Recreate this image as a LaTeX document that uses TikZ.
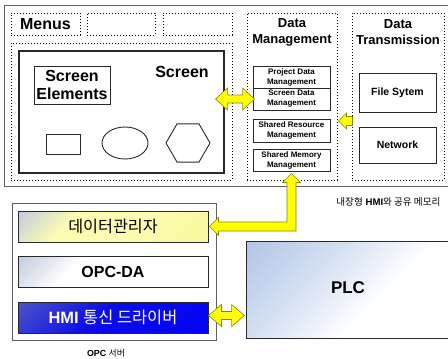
\documentclass[tikz,border=0pt]{standalone}
\usepackage{fontspec}
\setmainfont{Liberation Sans}
\newfontfamily\kr{Noto Sans CJK KR}
\usetikzlibrary{calc,shapes.geometric}

\definecolor{framegray}{RGB}{95,95,95}
\definecolor{boxline}{RGB}{40,40,40}
\definecolor{arrowfill}{RGB}{255,255,0}
\definecolor{arrowline}{RGB}{135,135,0}
\definecolor{mistblue}{RGB}{190,202,222}
\definecolor{paleyellow}{RGB}{252,252,178}
\definecolor{deepyellow}{RGB}{246,246,150}
\definecolor{hmitop}{RGB}{75,85,200}
\definecolor{hmimid}{RGB}{12,12,232}
\definecolor{hmibot}{RGB}{0,0,250}
\definecolor{plcblue}{RGB}{176,196,228}
\definecolor{plcmid}{RGB}{212,224,242}

% diagonal fades: the last colour lands in the top-left corner (shading angle=45)
\pgfdeclareverticalshading{dmkfade}{100bp}{color(0bp)=(deepyellow); color(45bp)=(paleyellow); color(66bp)=(paleyellow); color(86bp)=(mistblue); color(100bp)=(mistblue)}
\pgfdeclareverticalshading{opcfade}{100bp}{color(0bp)=(white); color(64bp)=(white); color(86bp)=(mistblue); color(100bp)=(mistblue)}
\pgfdeclareverticalshading{hmifade}{100bp}{color(0bp)=(hmibot); color(55bp)=(hmimid); color(86bp)=(hmitop); color(100bp)=(hmitop)}
\pgfdeclareverticalshading{plcfade}{100bp}{color(0bp)=(white); color(40bp)=(white); color(62bp)=(plcmid); color(86bp)=(plcblue); color(100bp)=(plcblue)}

\tikzset{
  box/.style={draw=boxline, line width=0.9pt, inner sep=0pt, rectangle},
  dotbox/.style={draw=black, line width=1pt, dash pattern=on 1pt off 2pt, inner sep=0pt, rectangle},
  framebox/.style={draw=framegray, line width=0.9pt, inner sep=0pt, rectangle},
  fadebox/.style={box, shade, shading=#1, shading angle=45},
  bigtxt/.style={font=\bfseries\fontsize{16}{18}\selectfont, align=center},
  midtxt/.style={font=\bfseries\fontsize{13}{16}\selectfont, align=center},
  subtxt/.style={font=\bfseries\fontsize{8}{10}\selectfont, align=center},
  fstxt/.style={font=\bfseries\fontsize{10.5}{12}\selectfont, align=center},
  captxt/.style={font=\fontsize{9.6}{11}\selectfont},
  blockarrow/.style={fill=arrowfill, draw=arrowline, line width=0.6pt, line join=miter},
}

\begin{document}
\begin{tikzpicture}[x=1pt, y=-1pt]
\useasboundingbox (0,0) rectangle (448,359);
\fill[white] (0,0) rectangle (448,359);

% ---------- embedded HMI with shared memory ----------
\node[framebox, minimum width=445, minimum height=181] (hmi) at (226.5,95.5) {};

% menu bar
\node[dotbox, minimum width=69, minimum height=22] (menu1) at (45.5,24) {};
\node[bigtxt] (menulbl) at (menu1.center) {Menus};
\node[dotbox, minimum width=68, minimum height=22] (menu2) at (121,24) {};
\node[dotbox, minimum width=69, minimum height=22] (menu3) at (197.5,24) {};

% screen area
\node[dotbox, minimum width=221, minimum height=137] (scrdot) at (121.5,111.5) {};
\node[box, line width=1.1pt, minimum width=205, minimum height=122] (scrbox) at (121.5,112) {};
\node[bigtxt] (scrlbl) at (182,72) {Screen};
\node[box, minimum width=76, minimum height=38, bigtxt] (elem) at (72,85) {Screen\\Elements};
\node[box, minimum width=34, minimum height=20] (rectel) at (63,144) {};
\node[box, ellipse, minimum width=46, minimum height=32] (ellel) at (125,143) {};
\node[box, regular polygon, regular polygon sides=6, minimum size=44] (hexel) at (188,143) {};

% data management
\node[dotbox, minimum width=90, minimum height=167] (dmdot) at (292,96.5) {};
\node[midtxt] (dmlbl) at (292,32) {Data\\Management};
\node[box, minimum width=77, minimum height=22, subtxt] (pdm) at (291.5,77) {Project Data\\Management};
\node[box, minimum width=77, minimum height=22, subtxt] (sdm) at (291.5,99) {Screen Data\\Management};
\node[box, minimum width=77, minimum height=23, subtxt] (srm) at (291.5,130.5) {Shared Resource\\Management};
\node[box, minimum width=77, minimum height=22, subtxt] (smm) at (291.5,160) {Shared Memory\\Management};

% data transmission
\node[dotbox, minimum width=92, minimum height=167] (dtdot) at (398,96.5) {};
\node[midtxt] (dtlbl) at (398,32) {Data\\Transmission};
\node[box, minimum width=77, minimum height=39, fstxt] (fs) at (397.5,92.5) {File Sytem};
\node[box, minimum width=77, minimum height=36, fstxt] (net) at (397.5,145) {Network};

\node[captxt, anchor=east] (hmicap) at (444,202) {{\kr 내장형} \textbf{HMI}{\kr 와 공유 메모리}};

% ---------- OPC server ----------
\node[framebox, minimum width=204, minimum height=137] (opc) at (114,271.5) {};
\node[fadebox=dmkfade, minimum width=190, minimum height=31,
      font=\kr\fontsize{16.2}{17}\selectfont] (dmk) at (113,226.5) {데이터관리자};
\node[fadebox=opcfade, minimum width=190, minimum height=31, bigtxt] (opcda) at (113,271.5) {OPC-DA};
\node[fadebox=hmifade, minimum width=190, minimum height=31,
      text=white, font=\fontsize{16.4}{18}\selectfont] (hmidrv) at (113,317.5) {\textbf{HMI} {\kr 통신 드라이버}};
\node[font=\fontsize{8.8}{10}\selectfont] (opccap) at (106,353) {\textbf{OPC} {\kr 서버}};

% ---------- PLC ----------
\node[fadebox=plcfade, minimum width=204, minimum height=97] (plc) at (348,289.5) {};
\node[font=\bfseries\fontsize{17}{18}\selectfont] (plclbl) at (348,288) {PLC};

% ---------- block arrows ----------
% screen <-> data management
\coordinate (ta) at ($(scrbox.east |- sdm.west)+(-9,0)$);
\coordinate (tb) at ($(sdm.west)+(2,0)$);
\filldraw[blockarrow] (ta) -- ($(ta)+(12,-11)$) -- ($(ta)+(12,-4)$) -- ($(tb)+(-12,-4)$) -- ($(tb)+(-12,-11)$)
  -- (tb) -- ($(tb)+(-12,11)$) -- ($(tb)+(-12,4)$) -- ($(ta)+(12,4)$) -- ($(ta)+(12,11)$) -- cycle;

% data transmission -> data management
\coordinate (sa) at ($(srm.east)+(8,-9.5)$);
\coordinate (sb) at ($(dtdot.west |- sa)+(1,0)$);
\filldraw[blockarrow] (sa) -- ($(sa)+(8,-8)$) -- ($(sa)+(8,-4.5)$) -- ($(sb)+(0,-4.5)$) -- ($(sb)+(0,4.5)$)
  -- ($(sa)+(8,4.5)$) -- ($(sa)+(8,8)$) -- cycle;

% shared memory <-> data manager
\coordinate (lt) at ($(smm.south)+(0,2)$);
\coordinate (ll) at ($(dmk.east)+(1,0)$);
\coordinate (lc) at (lt |- ll);
\filldraw[blockarrow] (lt) -- ($(lt)+(9,9)$) -- ($(lt)+(4.5,9)$) -- ($(lc)+(4.5,4.5)$) -- ($(ll)+(9,4.5)$)
  -- ($(ll)+(9,9)$) -- (ll) -- ($(ll)+(9,-9)$) -- ($(ll)+(9,-4.5)$) -- ($(lc)+(-4.5,-4.5)$)
  -- ($(lt)+(-4.5,9)$) -- ($(lt)+(-9,9)$) -- cycle;

% driver <-> PLC
\coordinate (ba) at ($(hmidrv.east)+(0,-2)$);
\coordinate (bb) at ($(plc.west |- ba)+(-1,0)$);
\filldraw[blockarrow] (ba) -- ($(ba)+(13,-11)$) -- ($(ba)+(13,-4)$) -- ($(bb)+(-13,-4)$) -- ($(bb)+(-13,-11)$)
  -- (bb) -- ($(bb)+(-13,11)$) -- ($(bb)+(-13,4)$) -- ($(ba)+(13,4)$) -- ($(ba)+(13,11)$) -- cycle;
\end{tikzpicture}
\end{document}
